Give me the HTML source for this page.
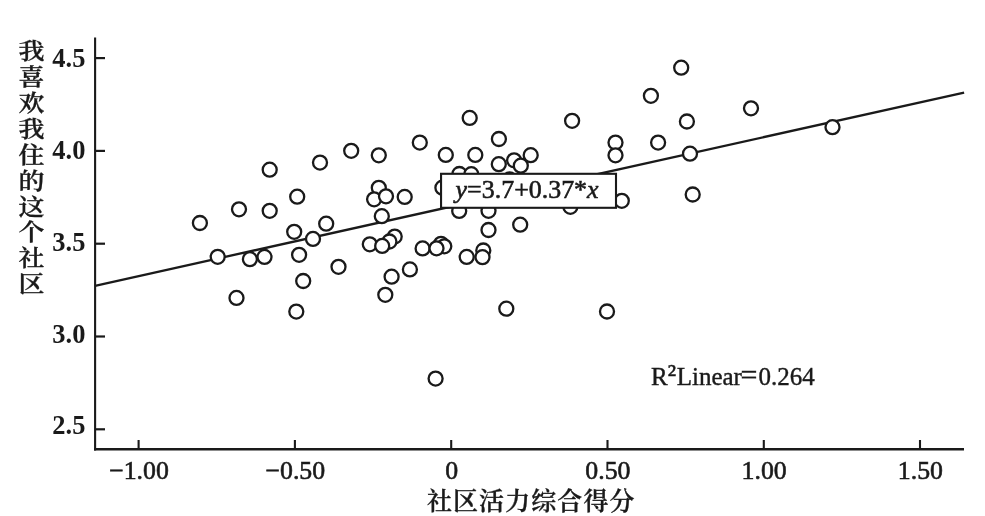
<!DOCTYPE html>
<html lang="zh"><head><meta charset="utf-8"><title>chart</title>
<style>html,body{margin:0;padding:0;background:#fff}svg{display:block}text{font-family:"Liberation Serif","Noto Serif CJK SC",serif;fill:#1a1a1a}</style></head><body>
<svg width="985" height="516" viewBox="0 0 985 516">
<rect width="985" height="516" fill="#fff"/>
<g stroke="#1a1a1a" fill="none" stroke-linecap="butt">
<line x1="95.1" y1="37.5" x2="95.1" y2="450.4" stroke-width="2.1"/>
<line x1="94" y1="449.2" x2="964" y2="449.2" stroke-width="2.5"/>
<line x1="95" y1="58.1" x2="105" y2="58.1" stroke-width="2.2"/>
<line x1="95" y1="150.9" x2="105" y2="150.9" stroke-width="2.2"/>
<line x1="95" y1="243.7" x2="105" y2="243.7" stroke-width="2.2"/>
<line x1="95" y1="336.5" x2="105" y2="336.5" stroke-width="2.2"/>
<line x1="95" y1="429.3" x2="105" y2="429.3" stroke-width="2.2"/>
<line x1="138.6" y1="440" x2="138.6" y2="449" stroke-width="2.1"/>
<line x1="294.9" y1="440" x2="294.9" y2="449" stroke-width="2.1"/>
<line x1="451.2" y1="440" x2="451.2" y2="449" stroke-width="2.1"/>
<line x1="607.5" y1="440" x2="607.5" y2="449" stroke-width="2.1"/>
<line x1="763.8" y1="440" x2="763.8" y2="449" stroke-width="2.1"/>
<line x1="920.0" y1="440" x2="920.0" y2="449" stroke-width="2.1"/>
<line x1="95" y1="285.8" x2="964.1" y2="92.6" stroke-width="2.3"/>
</g>
<g stroke="#1a1a1a" stroke-width="2.3" fill="#fff">
<circle cx="199.9" cy="223.0" r="7.0"/>
<circle cx="239.0" cy="209.3" r="7.0"/>
<circle cx="269.7" cy="210.8" r="7.0"/>
<circle cx="269.7" cy="169.7" r="7.0"/>
<circle cx="297.2" cy="196.7" r="7.0"/>
<circle cx="320.0" cy="162.6" r="7.0"/>
<circle cx="351.2" cy="150.8" r="7.0"/>
<circle cx="326.2" cy="223.7" r="7.0"/>
<circle cx="294.2" cy="231.8" r="7.0"/>
<circle cx="313.0" cy="238.9" r="7.0"/>
<circle cx="378.8" cy="155.3" r="7.0"/>
<circle cx="378.8" cy="187.8" r="7.0"/>
<circle cx="374.1" cy="199.3" r="7.0"/>
<circle cx="386.0" cy="196.3" r="7.0"/>
<circle cx="404.7" cy="196.9" r="7.0"/>
<circle cx="381.8" cy="216.2" r="7.0"/>
<circle cx="299.1" cy="254.8" r="7.0"/>
<circle cx="303.2" cy="281.0" r="7.0"/>
<circle cx="338.5" cy="266.8" r="7.0"/>
<circle cx="369.8" cy="244.3" r="7.0"/>
<circle cx="394.7" cy="236.6" r="7.0"/>
<circle cx="389.4" cy="241.5" r="7.0"/>
<circle cx="382.2" cy="245.9" r="7.0"/>
<circle cx="422.6" cy="248.4" r="7.0"/>
<circle cx="441.0" cy="243.8" r="7.0"/>
<circle cx="444.3" cy="246.3" r="7.0"/>
<circle cx="436.5" cy="248.3" r="7.0"/>
<circle cx="409.9" cy="269.4" r="7.0"/>
<circle cx="391.6" cy="276.7" r="7.0"/>
<circle cx="385.3" cy="294.8" r="7.0"/>
<circle cx="419.8" cy="142.6" r="7.0"/>
<circle cx="469.7" cy="117.9" r="7.0"/>
<circle cx="445.8" cy="154.9" r="7.0"/>
<circle cx="475.3" cy="154.9" r="7.0"/>
<circle cx="498.9" cy="139.0" r="7.0"/>
<circle cx="498.8" cy="164.2" r="7.0"/>
<circle cx="459.4" cy="174.0" r="7.0"/>
<circle cx="471.3" cy="174.2" r="7.0"/>
<circle cx="442.4" cy="187.7" r="7.0"/>
<circle cx="514.1" cy="160.3" r="7.0"/>
<circle cx="520.8" cy="165.7" r="7.0"/>
<circle cx="530.7" cy="155.2" r="7.0"/>
<circle cx="509.6" cy="179.5" r="7.0"/>
<circle cx="572.1" cy="120.8" r="7.0"/>
<circle cx="615.5" cy="142.6" r="7.0"/>
<circle cx="615.5" cy="155.3" r="7.0"/>
<circle cx="658.1" cy="142.6" r="7.0"/>
<circle cx="686.9" cy="121.5" r="7.0"/>
<circle cx="690.0" cy="153.7" r="7.0"/>
<circle cx="751.0" cy="108.3" r="7.0"/>
<circle cx="681.2" cy="67.7" r="7.0"/>
<circle cx="650.9" cy="95.8" r="7.0"/>
<circle cx="832.5" cy="127.2" r="7.0"/>
<circle cx="692.7" cy="194.5" r="7.0"/>
<circle cx="621.8" cy="200.8" r="7.0"/>
<circle cx="570.4" cy="206.8" r="7.0"/>
<circle cx="459.2" cy="210.9" r="7.0"/>
<circle cx="488.5" cy="210.8" r="7.0"/>
<circle cx="488.5" cy="230.0" r="7.0"/>
<circle cx="520.2" cy="224.7" r="7.0"/>
<circle cx="466.7" cy="256.9" r="7.0"/>
<circle cx="483.3" cy="250.5" r="7.0"/>
<circle cx="482.5" cy="257.2" r="7.0"/>
<circle cx="217.7" cy="256.8" r="7.0"/>
<circle cx="249.9" cy="259.2" r="7.0"/>
<circle cx="264.5" cy="256.9" r="7.0"/>
<circle cx="236.5" cy="297.9" r="7.0"/>
<circle cx="296.3" cy="311.6" r="7.0"/>
<circle cx="506.3" cy="308.7" r="7.0"/>
<circle cx="607.0" cy="311.5" r="7.0"/>
<circle cx="435.6" cy="378.6" r="7.0"/>
</g>
<rect x="441.05" y="173.8" width="174.95" height="34" fill="#fff" stroke="#1a1a1a" stroke-width="2.1"/>
<text x="455.6" y="197.6" font-size="25.5" stroke="#1a1a1a" stroke-width="0.6" textLength="143" lengthAdjust="spacingAndGlyphs"><tspan font-style="italic">y</tspan>=3.7+0.37*<tspan font-style="italic">x</tspan></text>
<text x="650.9" y="384.6" font-size="25" stroke="#1a1a1a" stroke-width="0.4">R<tspan font-size="29" dy="-0.4">²</tspan><tspan x="676.7" dy="0.4">Linear</tspan><tspan x="740.6" font-size="30">=</tspan><tspan x="758.4">0.264</tspan></text>
<text x="52.3" y="66.7" font-size="27.6" font-weight="bold" textLength="33.1" lengthAdjust="spacingAndGlyphs">4.5</text>
<text x="52.3" y="158.9" font-size="27.6" font-weight="bold" textLength="33.1" lengthAdjust="spacingAndGlyphs">4.0</text>
<text x="52.3" y="250.6" font-size="27.6" font-weight="bold" textLength="33.1" lengthAdjust="spacingAndGlyphs">3.5</text>
<text x="52.3" y="342.6" font-size="27.6" font-weight="bold" textLength="33.1" lengthAdjust="spacingAndGlyphs">3.0</text>
<text x="52.3" y="434.4" font-size="27.6" font-weight="bold" textLength="33.1" lengthAdjust="spacingAndGlyphs">2.5</text>
<text x="139.0" y="479.2" font-size="25.8" text-anchor="middle" stroke="#1a1a1a" stroke-width="0.6">−1.00</text>
<text x="295.3" y="479.2" font-size="25.8" text-anchor="middle" stroke="#1a1a1a" stroke-width="0.6">−0.50</text>
<text x="451.6" y="479.2" font-size="25.8" text-anchor="middle" stroke="#1a1a1a" stroke-width="0.6">0</text>
<text x="607.9" y="479.2" font-size="25.8" text-anchor="middle" stroke="#1a1a1a" stroke-width="0.6">0.50</text>
<text x="764.2" y="479.2" font-size="25.8" text-anchor="middle" stroke="#1a1a1a" stroke-width="0.6">1.00</text>
<text x="920.4" y="479.2" font-size="25.8" text-anchor="middle" stroke="#1a1a1a" stroke-width="0.6">1.50</text>
<text x="426.9" y="509.5" font-size="25" font-weight="600" stroke="#1a1a1a" stroke-width="0.3" textLength="207.6" lengthAdjust="spacing">社区活力综合得分</text>
<text transform="translate(31.6 59.4) scale(1.12 1)" font-size="23.2" font-weight="600" stroke="#1a1a1a" stroke-width="0.3" text-anchor="middle">我</text>
<text transform="translate(31.6 85.2) scale(1.12 1)" font-size="23.2" font-weight="600" stroke="#1a1a1a" stroke-width="0.3" text-anchor="middle">喜</text>
<text transform="translate(31.6 111.1) scale(1.12 1)" font-size="23.2" font-weight="600" stroke="#1a1a1a" stroke-width="0.3" text-anchor="middle">欢</text>
<text transform="translate(31.6 137.0) scale(1.12 1)" font-size="23.2" font-weight="600" stroke="#1a1a1a" stroke-width="0.3" text-anchor="middle">我</text>
<text transform="translate(31.6 162.8) scale(1.12 1)" font-size="23.2" font-weight="600" stroke="#1a1a1a" stroke-width="0.3" text-anchor="middle">住</text>
<text transform="translate(31.6 188.7) scale(1.12 1)" font-size="23.2" font-weight="600" stroke="#1a1a1a" stroke-width="0.3" text-anchor="middle">的</text>
<text transform="translate(31.6 214.5) scale(1.12 1)" font-size="23.2" font-weight="600" stroke="#1a1a1a" stroke-width="0.3" text-anchor="middle">这</text>
<text transform="translate(31.6 240.3) scale(1.12 1)" font-size="23.2" font-weight="600" stroke="#1a1a1a" stroke-width="0.3" text-anchor="middle">个</text>
<text transform="translate(31.6 266.2) scale(1.12 1)" font-size="23.2" font-weight="600" stroke="#1a1a1a" stroke-width="0.3" text-anchor="middle">社</text>
<text transform="translate(31.6 292.1) scale(1.12 1)" font-size="23.2" font-weight="600" stroke="#1a1a1a" stroke-width="0.3" text-anchor="middle">区</text>
</svg></body></html>
